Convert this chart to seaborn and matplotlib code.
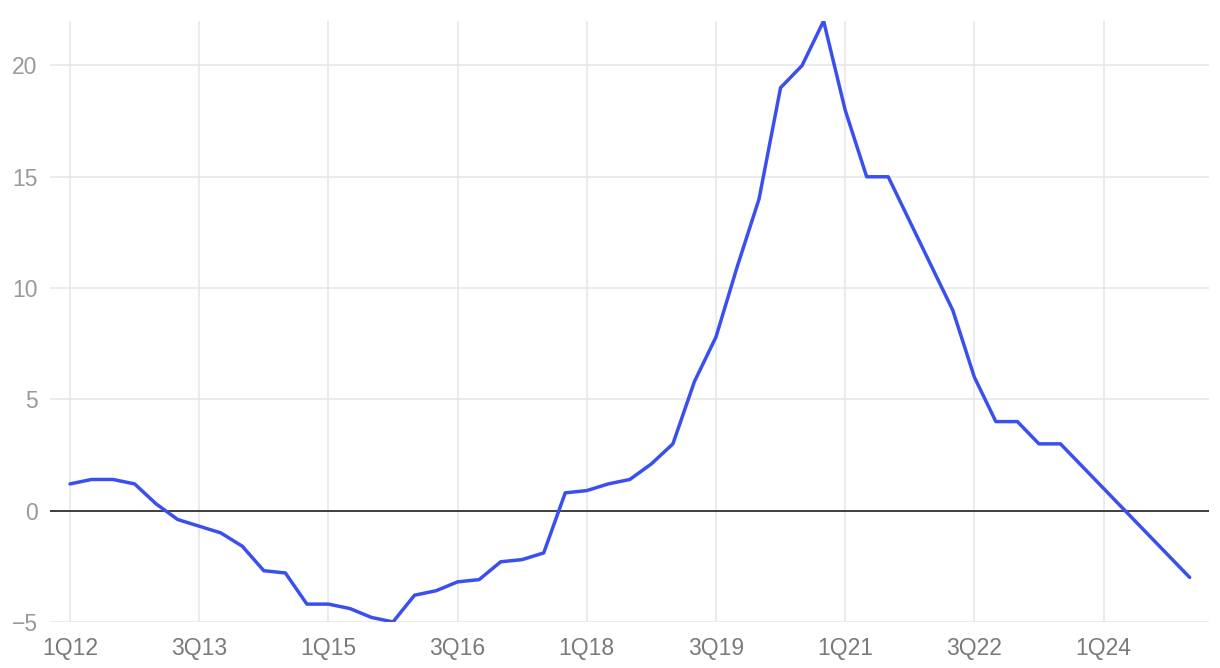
import matplotlib.pyplot as plt
import pandas as pd
import seaborn as sns

# quarterly series, 1Q12 .. 1Q25
START_YEAR = 2012
VALUES = [
    1.2, 1.4, 1.4, 1.2, 0.3, -0.4, -0.7, -1.0, -1.6, -2.7,
    -2.8, -4.2, -4.2, -4.4, -4.8, -5.0, -3.8, -3.6, -3.2, -3.1,
    -2.3, -2.2, -1.9, 0.8, 0.9, 1.2, 1.4, 2.1, 3.0, 5.8,
    7.8, 11.0, 14.0, 19.0, 20.0, 22.0, 18.0, 15.0, 15.0, 13.0,
    11.0, 9.0, 6.0, 4.0, 4.0, 3.0, 3.0, 2.0, 1.0, 0.0,
    -1.0, -2.0, -3.0,
]
TICK_LABELS = ["1Q12", "3Q13", "1Q15", "3Q16", "1Q18", "3Q19", "1Q21", "3Q22", "1Q24"]
Y_TICKS = [-5, 0, 5, 10, 15, 20]


def quarter_label(i: int) -> str:
    return f"{i % 4 + 1}Q{(START_YEAR + i // 4) % 100:02d}"


def main() -> None:
    df = pd.DataFrame({"idx": range(len(VALUES)), "value": VALUES})
    df["quarter"] = [quarter_label(i) for i in df["idx"]]

    sns.set_theme(style="white")
    plt.rcParams["font.family"] = ["Liberation Sans", "DejaVu Sans"]

    fig = plt.figure(figsize=(12.2, 6.68), dpi=100)
    ax = fig.add_axes([0.041, 0.069, 0.95, 0.8996])

    ax.axhline(0, color="#222222", lw=1.2, zorder=2)
    sns.lineplot(data=df, x="idx", y="value", color="#3a50ee", lw=2.5, ax=ax, zorder=3)

    tick_pos = [df.index[df["quarter"] == lab][0] for lab in TICK_LABELS]
    ax.set_xticks(tick_pos)
    ax.set_xticklabels(TICK_LABELS)
    ax.set_yticks(Y_TICKS)
    ax.set_yticklabels([str(v).replace("-", "\u2212") for v in Y_TICKS])
    ax.set_xlim(-0.93, 52.9)
    ax.set_ylim(-5, 22)

    ax.grid(True, color="#e6e6e6", lw=1.1, zorder=0)
    ax.set_axisbelow(True)
    for spine in ax.spines.values():
        spine.set_visible(False)
    ax.tick_params(axis="both", length=0, labelsize=16.5)
    ax.tick_params(axis="x", colors="#7a7a7a", pad=11)
    ax.tick_params(axis="y", colors="#999999", pad=9)
    ax.set_xlabel("")
    ax.set_ylabel("")

    fig.savefig("out.png", dpi=100)
    plt.close(fig)


if __name__ == "__main__":
    main()
